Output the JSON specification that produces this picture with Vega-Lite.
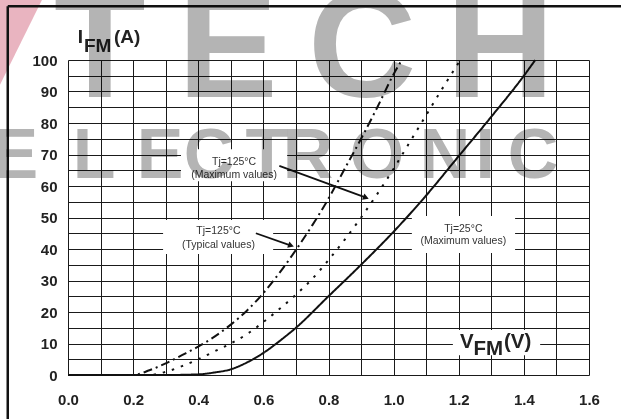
{
  "$schema": "https://vega.github.io/schema/vega-lite/v6.json",
  "width": 521,
  "height": 315,
  "autosize": "none",
  "padding": {"left": 68, "top": 60, "right": 32, "bottom": 44},
  "background": "white",
  "config": {"view": {"stroke": null}, "font": "Liberation Sans"},
  "encoding": {
    "x": {"field": "x", "type": "quantitative", "scale": {"domain": [0, 1.6], "nice": false, "zero": false},
      "axis": {"values": [0, 0.1, 0.2, 0.3, 0.4, 0.5, 0.6, 0.7, 0.8, 0.9, 1.0, 1.1, 1.2, 1.3, 1.4, 1.5, 1.6],
        "grid": true, "gridColor": "#1a1a1a", "gridWidth": 1, "gridOpacity": 1,
        "domain": false, "ticks": false, "tickSize": 0, "labelPadding": 17,
        "labelFontSize": 15, "labelFontWeight": "bold", "labelColor": "#222", "labelFont": "Liberation Sans",
        "labelExpr": "abs(round(datum.value*10)) % 2 == 0 ? format(datum.value, '.1f') : ''",
        "labelFlush": false, "labelOverlap": false, "title": null}},
    "y": {"field": "y", "type": "quantitative", "scale": {"domain": [0, 100], "nice": false, "zero": false},
      "axis": {"values": [0, 5, 10, 15, 20, 25, 30, 35, 40, 45, 50, 55, 60, 65, 70, 75, 80, 85, 90, 95, 100],
        "grid": true, "gridColor": "#1a1a1a", "gridWidth": 1, "gridOpacity": 1,
        "domain": false, "ticks": false, "tickSize": 0, "labelPadding": 11,
        "labelFontSize": 15, "labelFontWeight": "bold", "labelColor": "#222", "labelFont": "Liberation Sans",
        "labelExpr": "datum.value % 10 == 0 ? datum.label : ''",
        "labelFlush": false, "labelOverlap": false, "title": null}}
  },
  "layer": [
    {
      "data": {"values": [
        {"x": 0.347, "x2": 0.673, "y": 71.7, "y2": 61.5},
        {"x": 0.292, "x2": 0.630, "y": 49.2, "y2": 38.4},
        {"x": 1.056, "x2": 1.373, "y": 50.5, "y2": 38.7},
        {"x": 1.182, "x2": 1.450, "y": 14.3, "y2": 6.3}
      ]},
      "mark": {"type": "rect", "color": "white", "opacity": 1},
      "encoding": {"x2": {"field": "x2"}, "y2": {"field": "y2"}}
    },
    {
      "data": {"values": [
        {"curve": "Tj=25°C max", "x": 0, "y": 0},
        {"curve": "Tj=25°C max", "x": 0.3, "y": 0},
        {"curve": "Tj=25°C max", "x": 0.4, "y": 0.2},
        {"curve": "Tj=25°C max", "x": 0.45, "y": 0.8},
        {"curve": "Tj=25°C max", "x": 0.5, "y": 1.8},
        {"curve": "Tj=25°C max", "x": 0.55, "y": 4},
        {"curve": "Tj=25°C max", "x": 0.6, "y": 7},
        {"curve": "Tj=25°C max", "x": 0.65, "y": 10.8},
        {"curve": "Tj=25°C max", "x": 0.7, "y": 15},
        {"curve": "Tj=25°C max", "x": 0.8, "y": 25},
        {"curve": "Tj=25°C max", "x": 0.9, "y": 35},
        {"curve": "Tj=25°C max", "x": 1.0, "y": 45.5},
        {"curve": "Tj=25°C max", "x": 1.1, "y": 57},
        {"curve": "Tj=25°C max", "x": 1.2, "y": 69.5},
        {"curve": "Tj=25°C max", "x": 1.3, "y": 82},
        {"curve": "Tj=25°C max", "x": 1.4, "y": 95},
        {"curve": "Tj=25°C max", "x": 1.435, "y": 100},
        {"curve": "Tj=125°C typ", "x": 0, "y": 0},
        {"curve": "Tj=125°C typ", "x": 0.2, "y": 0},
        {"curve": "Tj=125°C typ", "x": 0.25, "y": 1.5},
        {"curve": "Tj=125°C typ", "x": 0.3, "y": 3.7},
        {"curve": "Tj=125°C typ", "x": 0.35, "y": 6.3},
        {"curve": "Tj=125°C typ", "x": 0.4, "y": 9},
        {"curve": "Tj=125°C typ", "x": 0.45, "y": 12.2},
        {"curve": "Tj=125°C typ", "x": 0.5, "y": 16},
        {"curve": "Tj=125°C typ", "x": 0.55, "y": 20.5},
        {"curve": "Tj=125°C typ", "x": 0.6, "y": 26},
        {"curve": "Tj=125°C typ", "x": 0.65, "y": 32.5},
        {"curve": "Tj=125°C typ", "x": 0.7, "y": 39.7},
        {"curve": "Tj=125°C typ", "x": 0.75, "y": 47.5},
        {"curve": "Tj=125°C typ", "x": 0.8, "y": 56},
        {"curve": "Tj=125°C typ", "x": 0.85, "y": 65.5},
        {"curve": "Tj=125°C typ", "x": 0.9, "y": 75},
        {"curve": "Tj=125°C typ", "x": 0.95, "y": 85},
        {"curve": "Tj=125°C typ", "x": 1.0, "y": 95.5},
        {"curve": "Tj=125°C typ", "x": 1.025, "y": 100},
        {"curve": "Tj=125°C max", "x": 0, "y": 0},
        {"curve": "Tj=125°C max", "x": 0.25, "y": 0},
        {"curve": "Tj=125°C max", "x": 0.3, "y": 1},
        {"curve": "Tj=125°C max", "x": 0.35, "y": 2.8},
        {"curve": "Tj=125°C max", "x": 0.4, "y": 5},
        {"curve": "Tj=125°C max", "x": 0.45, "y": 7.5},
        {"curve": "Tj=125°C max", "x": 0.5, "y": 10},
        {"curve": "Tj=125°C max", "x": 0.55, "y": 13},
        {"curve": "Tj=125°C max", "x": 0.6, "y": 16.8},
        {"curve": "Tj=125°C max", "x": 0.65, "y": 21},
        {"curve": "Tj=125°C max", "x": 0.7, "y": 25.5},
        {"curve": "Tj=125°C max", "x": 0.75, "y": 30.5},
        {"curve": "Tj=125°C max", "x": 0.8, "y": 36.5},
        {"curve": "Tj=125°C max", "x": 0.85, "y": 43},
        {"curve": "Tj=125°C max", "x": 0.9, "y": 50},
        {"curve": "Tj=125°C max", "x": 0.95, "y": 57.5},
        {"curve": "Tj=125°C max", "x": 1.0, "y": 65.5},
        {"curve": "Tj=125°C max", "x": 1.05, "y": 74},
        {"curve": "Tj=125°C max", "x": 1.1, "y": 82.5},
        {"curve": "Tj=125°C max", "x": 1.15, "y": 91},
        {"curve": "Tj=125°C max", "x": 1.205, "y": 100}
      ]},
      "mark": {"type": "line", "interpolate": "monotone", "strokeWidth": 2, "color": "#111"},
      "encoding": {
        "detail": {"field": "curve"},
        "strokeDash": {"field": "curve", "type": "nominal",
          "scale": {"domain": ["Tj=25°C max", "Tj=125°C typ", "Tj=125°C max"], "range": [[1, 0], [9, 4, 2, 4], [2.5, 7]]},
          "legend": null}
      }
    },
    {
      "data": {"values": [
        {"x": 0.649, "y": 66.4, "x2": 0.915, "y2": 56.3},
        {"x": 0.577, "y": 45.0, "x2": 0.685, "y2": 41.1}
      ]},
      "mark": {"type": "rule", "strokeWidth": 1.8, "color": "#111"},
      "encoding": {"x2": {"field": "x2"}, "y2": {"field": "y2"}}
    },
    {
      "data": {"values": [
        {"x": 0.915, "y": 56.3, "angle": 20},
        {"x": 0.685, "y": 41.1, "angle": 19}
      ]},
      "mark": {"type": "point", "shape": "triangle-right", "filled": true, "size": 45, "color": "#111", "opacity": 1},
      "encoding": {"angle": {"field": "angle", "type": "quantitative", "scale": null}}
    },
    {
      "data": {"values": [
        {"t": "Tj=125°C", "x": 0.510, "y": 67.5},
        {"t": "(Maximum values)", "x": 0.510, "y": 63.5},
        {"t": "Tj=125°C", "x": 0.462, "y": 45.7},
        {"t": "(Typical values)", "x": 0.462, "y": 41.3},
        {"t": "Tj=25°C", "x": 1.214, "y": 46.5},
        {"t": "(Maximum values)", "x": 1.214, "y": 42.4}
      ]},
      "mark": {"type": "text", "fontSize": 10.5, "color": "#333", "align": "center", "baseline": "middle", "font": "Liberation Sans"},
      "encoding": {"text": {"field": "t"}}
    },
    {
      "data": {"values": [
        {"t": "I", "x": 0.0298, "y": 105.4},
        {"t": "FM", "x": 0.0491, "y": 102.5},
        {"t": "(A)", "x": 0.1413, "y": 105.4}
      ]},
      "mark": {"type": "text", "fontSize": 19, "fontWeight": "bold", "color": "#222", "align": "left", "baseline": "alphabetic", "font": "Liberation Sans"},
      "encoding": {"text": {"field": "t"}}
    },
    {
      "data": {"values": [
        {"t": "V", "x": 1.204, "y": 8.57},
        {"t": "FM", "x": 1.245, "y": 6.35},
        {"t": "(V)", "x": 1.339, "y": 8.57}
      ]},
      "mark": {"type": "text", "fontSize": 20.5, "fontWeight": "bold", "color": "#222", "align": "left", "baseline": "alphabetic", "font": "Liberation Sans"},
      "encoding": {"text": {"field": "t"}}
    },
    {
      "data": {"values": [
        {"x": -0.209, "y": 119.05, "y2": 92.1},
        {"x": -0.080, "y": 119.05, "y2": 119.05}
      ]},
      "mark": {"type": "area", "color": "#e9b4c0", "opacity": 1, "blend": "multiply"},
      "encoding": {"y2": {"field": "y2"}}
    },
    {
      "data": {"values": [
        {"x": -0.185, "y": 117.1, "x2": 1.70, "y2": 117.1},
        {"x": -0.185, "y": 117.1, "x2": -0.185, "y2": -14}
      ]},
      "mark": {"type": "rule", "strokeWidth": 2.5, "color": "#111"},
      "encoding": {"x2": {"field": "x2"}, "y2": {"field": "y2"}}
    },
    {
      "data": {"values": [
        {"t": "T", "x": 0.098, "y": 88.3},
        {"t": "E", "x": 0.491, "y": 88.3},
        {"t": "C", "x": 0.903, "y": 88.3},
        {"t": "H", "x": 1.327, "y": 88.3}
      ]},
      "mark": {"type": "text", "fontSize": 150, "fontWeight": "bold", "color": "#b4b4b4", "align": "center", "baseline": "alphabetic", "font": "Liberation Sans", "blend": "multiply"},
      "encoding": {"text": {"field": "t"}}
    },
    {
      "data": {"values": [
        {"t": "E", "x": -0.163, "y": 62.5},
        {"t": "L", "x": 0.080, "y": 62.5},
        {"t": "E", "x": 0.283, "y": 62.5},
        {"t": "C", "x": 0.433, "y": 62.5},
        {"t": "T", "x": 0.611, "y": 62.5},
        {"t": "R", "x": 0.737, "y": 62.5},
        {"t": "O", "x": 0.949, "y": 62.5},
        {"t": "N", "x": 1.158, "y": 62.5},
        {"t": "I", "x": 1.281, "y": 62.5},
        {"t": "C", "x": 1.428, "y": 62.5}
      ]},
      "mark": {"type": "text", "fontSize": 70, "fontWeight": "bold", "color": "#b4b4b4", "align": "center", "baseline": "alphabetic", "font": "Liberation Sans Narrow, Liberation Sans", "blend": "multiply"},
      "encoding": {"text": {"field": "t"}}
    }
  ]
}
